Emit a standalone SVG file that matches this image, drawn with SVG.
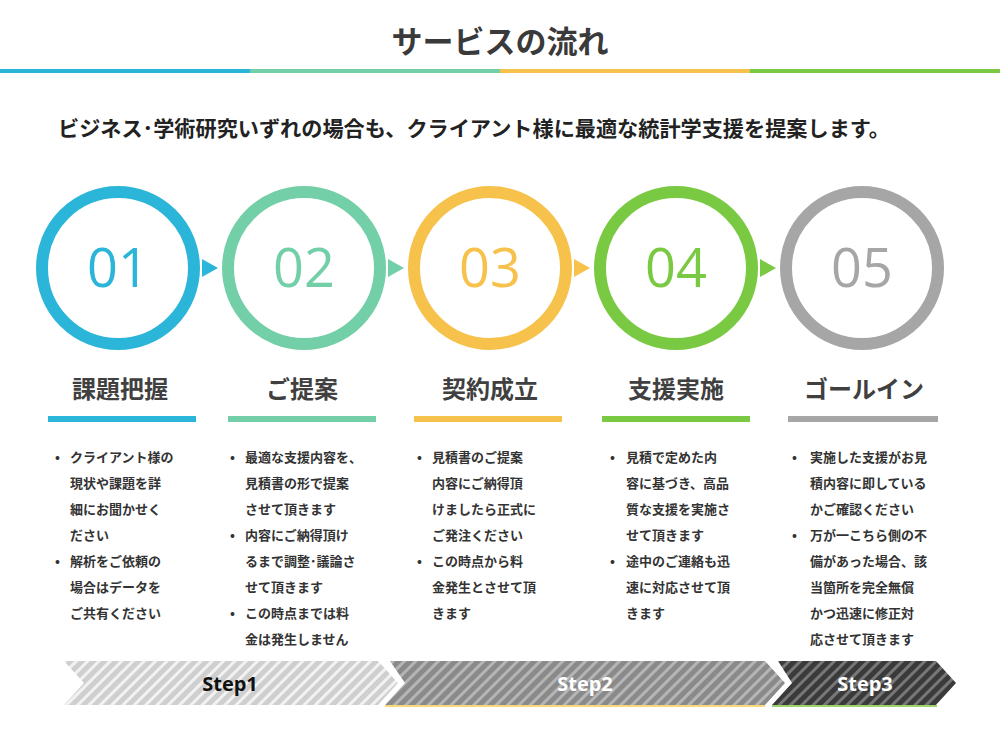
<svg xmlns="http://www.w3.org/2000/svg" width="1000" height="750" viewBox="0 0 1000 750">
<defs>
<pattern id="s1" width="8" height="8" patternUnits="userSpaceOnUse" patternTransform="rotate(45)"><rect width="8" height="8" fill="#cfcfcf"/><rect width="3" height="8" fill="#f2f2f2"/></pattern>
<pattern id="s2" width="8" height="8" patternUnits="userSpaceOnUse" patternTransform="rotate(45)"><rect width="8" height="8" fill="#8a8a8a"/><rect width="3" height="8" fill="#b5b5b5"/></pattern>
<pattern id="s3" width="8" height="8" patternUnits="userSpaceOnUse" patternTransform="rotate(45)"><rect width="8" height="8" fill="#3a3a3a"/><rect width="3" height="8" fill="#777"/></pattern>
</defs>
<style>
text{font-family:"Noto Sans CJK JP","Noto Sans",sans-serif;fill:#333}
.c{fill:none;stroke-width:12}
.n{font-family:"Open Sans","Noto Sans",sans-serif;font-size:54px;text-anchor:middle}
.l{font-size:24px;font-weight:bold;text-anchor:middle;fill:#404040}
.b{font-size:13px;font-weight:bold;fill:#333}
.st{font-family:"Open Sans","Noto Sans",sans-serif;font-size:20px;font-weight:bold;text-anchor:middle}
</style>
<rect width="1000" height="750" fill="#fff"/>
<text x="500" y="53" font-size="31" font-weight="bold" text-anchor="middle" style="fill:#3a3a3a">サービスの流れ</text>
<rect x="0" y="69" width="250" height="4" fill="#2bb5d8"/>
<rect x="250" y="69" width="250" height="4" fill="#72cfa8"/>
<rect x="500" y="69" width="250" height="4" fill="#f7c24b"/>
<rect x="750" y="69" width="250" height="4" fill="#7ac943"/>
<text x="58" y="136" font-size="21" font-weight="bold" textLength="832" lengthAdjust="spacingAndGlyphs" style="fill:#222">ビジネス･学術研究いずれの場合も、クライアント様に最適な統計学支援を提案します。</text>
<g id="connectors">
<polygon points="202,259 218,268 202,277" fill="#2bb5d8"/>
<polygon points="388,259 404,268 388,277" fill="#72cfa8"/>
<polygon points="574,259 590,268 574,277" fill="#f7c24b"/>
<polygon points="760,259 776,268 760,277" fill="#7ac943"/>
</g>
<g id="n1"><circle class="c" cx="118" cy="268" r="76" stroke="#2bb5d8"/><text class="n" x="118" y="287" style="fill:#2bb5d8">01</text>
<text class="l" x="120" y="398">課題把握</text><rect x="48" y="416" width="148" height="6" fill="#2bb5d8"/>
<text class="b"><tspan x="55" y="462">•</tspan><tspan x="70" y="462">クライアント様の</tspan><tspan x="70" y="488">現状や課題を詳</tspan><tspan x="70" y="514">細にお聞かせく</tspan><tspan x="70" y="540">ださい</tspan><tspan x="55" y="566">•</tspan><tspan x="70" y="566">解析をご依頼の</tspan><tspan x="70" y="592">場合はデータを</tspan><tspan x="70" y="618">ご共有ください</tspan></text></g>
<g id="n2"><circle class="c" cx="304" cy="268" r="76" stroke="#72cfa8"/><text class="n" x="304" y="287" style="fill:#72cfa8">02</text>
<text class="l" x="302" y="398">ご提案</text><rect x="228" y="416" width="148" height="6" fill="#72cfa8"/>
<text class="b"><tspan x="230" y="462">•</tspan><tspan x="245" y="462">最適な支援内容を、</tspan><tspan x="245" y="488">見積書の形で提案</tspan><tspan x="245" y="514">させて頂きます</tspan><tspan x="230" y="540">•</tspan><tspan x="245" y="540">内容にご納得頂け</tspan><tspan x="245" y="566">るまで調整･議論さ</tspan><tspan x="245" y="592">せて頂きます</tspan><tspan x="230" y="618">•</tspan><tspan x="245" y="618">この時点までは料</tspan><tspan x="245" y="644">金は発生しません</tspan></text></g>
<g id="n3"><circle class="c" cx="490" cy="268" r="76" stroke="#f7c24b"/><text class="n" x="490" y="287" style="fill:#f7c24b">03</text>
<text class="l" x="490" y="398">契約成立</text><rect x="414" y="416" width="148" height="6" fill="#f7c24b"/>
<text class="b"><tspan x="417" y="462">•</tspan><tspan x="432" y="462">見積書のご提案</tspan><tspan x="432" y="488">内容にご納得頂</tspan><tspan x="432" y="514">けましたら正式に</tspan><tspan x="432" y="540">ご発注ください</tspan><tspan x="417" y="566">•</tspan><tspan x="432" y="566">この時点から料</tspan><tspan x="432" y="592">金発生とさせて頂</tspan><tspan x="432" y="618">きます</tspan></text></g>
<g id="n4"><circle class="c" cx="676" cy="268" r="76" stroke="#7ac943"/><text class="n" x="676" y="287" style="fill:#7ac943">04</text>
<text class="l" x="676" y="398">支援実施</text><rect x="602" y="416" width="148" height="6" fill="#7ac943"/>
<text class="b"><tspan x="610" y="462">•</tspan><tspan x="626" y="462">見積で定めた内</tspan><tspan x="626" y="488">容に基づき、高品</tspan><tspan x="626" y="514">質な支援を実施さ</tspan><tspan x="626" y="540">せて頂きます</tspan><tspan x="610" y="566">•</tspan><tspan x="626" y="566">途中のご連絡も迅</tspan><tspan x="626" y="592">速に対応させて頂</tspan><tspan x="626" y="618">きます</tspan></text></g>
<g id="n5"><circle class="c" cx="862" cy="268" r="76" stroke="#a6a6a6"/><text class="n" x="862" y="287" style="fill:#a6a6a6">05</text>
<text class="l" x="864" y="398">ゴールイン</text><rect x="788" y="416" width="150" height="6" fill="#a6a6a6"/>
<text class="b"><tspan x="792" y="462">•</tspan><tspan x="810" y="462">実施した支援がお見</tspan><tspan x="810" y="488">積内容に即している</tspan><tspan x="810" y="514">かご確認ください</tspan><tspan x="792" y="540">•</tspan><tspan x="810" y="540">万が一こちら側の不</tspan><tspan x="810" y="566">備があった場合、該</tspan><tspan x="810" y="592">当箇所を完全無償</tspan><tspan x="810" y="618">かつ迅速に修正対</tspan><tspan x="810" y="644">応させて頂きます</tspan></text></g>
<g id="steps">
<polygon points="64,661 378,661 398,683 378,705 64,705 84,683" fill="url(#s1)"/>
<text class="st" x="230" y="691" style="fill:#111">Step1</text>
<polygon points="390,661 765,661 785,683 765,705 385,705 405,683" fill="url(#s2)"/>
<rect x="385" y="705" width="380" height="2" fill="#f7d87a"/>
<text class="st" x="585" y="691" style="fill:#fff">Step2</text>
<polygon points="778,661 936,661 956,683 936,705 772,705 792,683" fill="url(#s3)"/>
<rect x="772" y="705" width="165" height="2" fill="#9bd56a"/>
<text class="st" x="865" y="691" style="fill:#fff">Step3</text>
</g>
</svg>
